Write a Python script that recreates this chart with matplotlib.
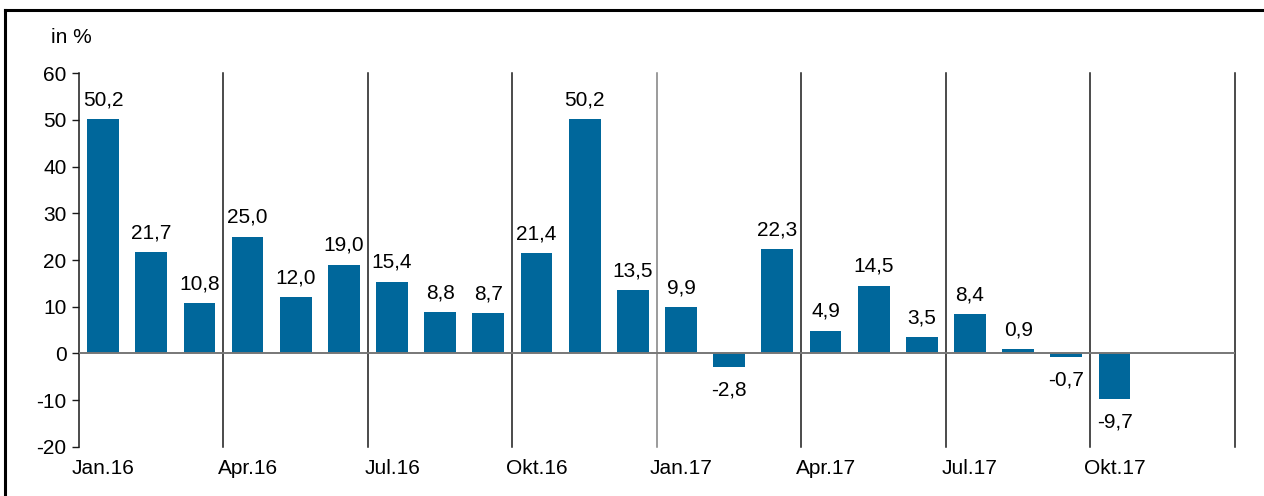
import numpy as np
import matplotlib.pyplot as plt
from matplotlib.lines import Line2D

# datos
valores = [50.2, 21.7, 10.8, 25.0, 12.0, 19.0, 15.4, 8.8, 8.7, 21.4, 50.2,
           13.5, 9.9, -2.8, 22.3, 4.9, 14.5, 3.5, 8.4, 0.9, -0.7, -9.7]
n_meses = 24
etiquetas_x = ['Jan.16', 'Apr.16', 'Jul.16', 'Okt.16',
               'Jan.17', 'Apr.17', 'Jul.17', 'Okt.17']
color_barra = '#00679b'

plt.rcParams['font.family'] = ['Liberation Sans', 'DejaVu Sans']
plt.rcParams['font.size'] = 15
plt.rcParams['axes.unicode_minus'] = False

fig = plt.figure(figsize=(12.64, 4.96), dpi=100)
ax = fig.add_axes([0.0625, 0.0988, 0.9145, 0.754])

x = np.arange(len(valores)) + 0.5
barras = ax.bar(x, valores, width=0.66, color=color_barra, zorder=3)

# etiquetas de valores
for xi, v in zip(x, valores):
    texto = f'{v:.1f}'.replace('.', ',')
    if v >= 0:
        ax.annotate(texto, (xi, v), xytext=(0, 7), textcoords='offset points',
                    ha='center', va='bottom')
    else:
        ax.annotate(texto, (xi, v), xytext=(0, -10), textcoords='offset points',
                    ha='center', va='top')

# lineas verticales por trimestre
for q in range(3, n_meses + 1, 3):
    col = '#808080' if q == 12 else '#1a1a1a'
    ax.axvline(q, color=col, linewidth=1.1, zorder=1, clip_on=False)
ax.axhline(0, color='#777777', linewidth=1.4, zorder=4)

ax.set_xlim(0, n_meses)
ax.set_ylim(-20, 60)
ax.set_yticks(range(-20, 61, 10))
ax.set_xticks(np.arange(0, n_meses, 3) + 0.5)
ax.set_xticklabels(etiquetas_x)
ax.tick_params(axis='x', length=0, pad=9)
ax.tick_params(axis='y', length=5, width=1, color='#1a1a1a', pad=4)

for lado in ['top', 'right', 'bottom']:
    ax.spines[lado].set_visible(False)
ax.spines['left'].set_color('#1a1a1a')
ax.spines['left'].set_linewidth(1.1)

fig.text(0.04, 0.925, 'in %', ha='left', va='center')

# marco de la figura (solo arriba e izquierda visibles)
fig.add_artist(Line2D([0.004, 1.0], [0.98, 0.98], transform=fig.transFigure,
                      color='black', linewidth=2.2))
fig.add_artist(Line2D([0.004, 0.004], [0.0, 0.98], transform=fig.transFigure,
                      color='black', linewidth=2.2))

fig.savefig('out.png', dpi=100)
